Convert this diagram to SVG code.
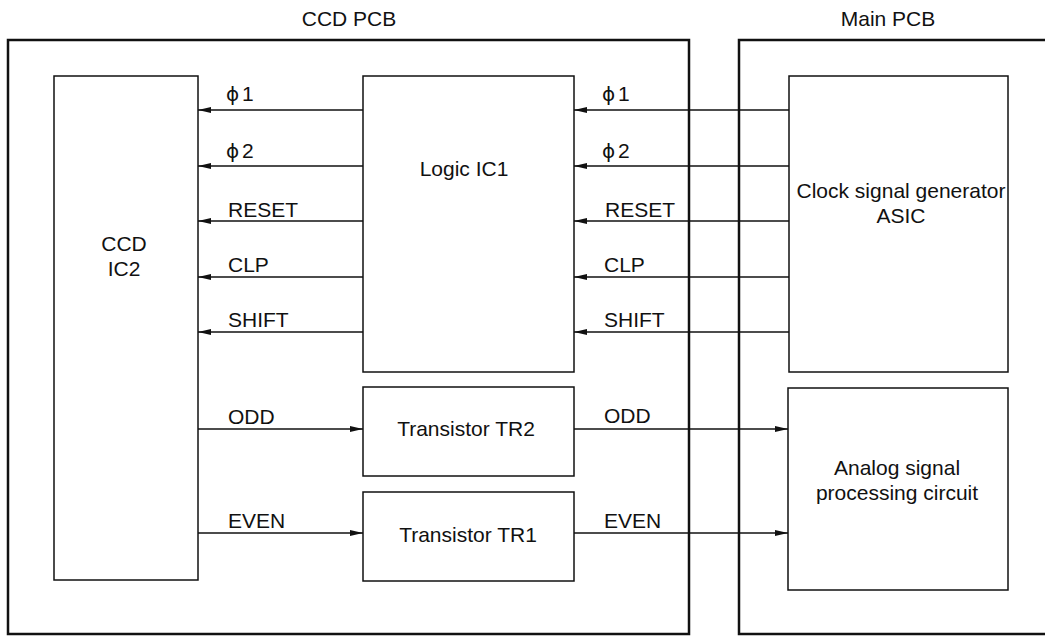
<svg xmlns="http://www.w3.org/2000/svg" width="1045" height="636" viewBox="0 0 1045 636">
<style>
text{font-family:"Liberation Sans",Arial,sans-serif;font-size:21px;fill:#111}
.c{text-anchor:middle}
.pcb{fill:none;stroke:#111;stroke-width:2.5}
.box{fill:#fff;stroke:#111;stroke-width:1.5}
.w{fill:none;stroke:#111;stroke-width:1.5}
.phi{font-family:"DejaVu Sans","Liberation Sans",sans-serif;font-size:20px}
</style>
<defs>
<marker id="ah" markerUnits="userSpaceOnUse" markerWidth="14" markerHeight="10" refX="13" refY="4" orient="auto">
<path d="M0,1 L13,4 L0,7 Z" fill="#111"/>
</marker>
</defs>
<rect width="1045" height="636" fill="#fff"/>
<g id="ccd-pcb">
<rect class="pcb" x="8" y="40" width="681" height="594"/>
<text class="c" x="349" y="26">CCD PCB</text>
</g>
<g id="main-pcb">
<rect class="pcb" x="739" y="40" width="330" height="594"/>
<text class="c" x="888" y="26">Main PCB</text>
</g>
<g id="connectors">
<path class="w" d="M363,110 H198" marker-end="url(#ah)"/>
<path class="w" d="M363,166 H198" marker-end="url(#ah)"/>
<path class="w" d="M363,221 H198" marker-end="url(#ah)"/>
<path class="w" d="M363,277 H198" marker-end="url(#ah)"/>
<path class="w" d="M363,332 H198" marker-end="url(#ah)"/>
<path class="w" d="M789,110 H574" marker-end="url(#ah)"/>
<path class="w" d="M789,166 H574" marker-end="url(#ah)"/>
<path class="w" d="M789,221 H574" marker-end="url(#ah)"/>
<path class="w" d="M789,277 H574" marker-end="url(#ah)"/>
<path class="w" d="M789,332 H574" marker-end="url(#ah)"/>
<path class="w" d="M198,429 H363" marker-end="url(#ah)"/>
<path class="w" d="M198,533 H363" marker-end="url(#ah)"/>
<path class="w" d="M574,429 H788" marker-end="url(#ah)"/>
<path class="w" d="M574,533 H788" marker-end="url(#ah)"/>
<text class="phi" x="226" y="101">ϕ</text><text x="242" y="101">1</text>
<text class="phi" x="226" y="158">ϕ</text><text x="242" y="158">2</text>
<text x="228" y="217">RESET</text>
<text x="228" y="272">CLP</text>
<text x="228" y="327">SHIFT</text>
<text x="228" y="424">ODD</text>
<text x="228" y="528">EVEN</text>
<text class="phi" x="602" y="101">ϕ</text><text x="618" y="101">1</text>
<text class="phi" x="602" y="158">ϕ</text><text x="618" y="158">2</text>
<text x="605" y="217">RESET</text>
<text x="604" y="272">CLP</text>
<text x="604" y="327">SHIFT</text>
<text x="604" y="423">ODD</text>
<text x="604" y="528">EVEN</text>
</g>
<g id="ccd-ic2">
<rect class="box" x="54" y="76" width="144" height="504"/>
<text class="c" x="124" y="251">CCD</text>
<text class="c" x="124" y="276">IC2</text>
</g>
<g id="logic-ic1">
<rect class="box" x="363" y="76" width="211" height="296"/>
<text class="c" x="464" y="176">Logic IC1</text>
</g>
<g id="tr2">
<rect class="box" x="363" y="387" width="211" height="89"/>
<text class="c" x="466" y="436">Transistor TR2</text>
</g>
<g id="tr1">
<rect class="box" x="363" y="492" width="211" height="89"/>
<text class="c" x="468" y="542">Transistor TR1</text>
</g>
<g id="clock-asic">
<rect class="box" x="789" y="76" width="219" height="296"/>
<text class="c" x="901" y="198">Clock signal generator</text>
<text class="c" x="901" y="223">ASIC</text>
</g>
<g id="analog">
<rect class="box" x="788" y="388" width="220" height="202"/>
<text class="c" x="897" y="475">Analog signal</text>
<text class="c" x="897" y="500">processing circuit</text>
</g>
</svg>
